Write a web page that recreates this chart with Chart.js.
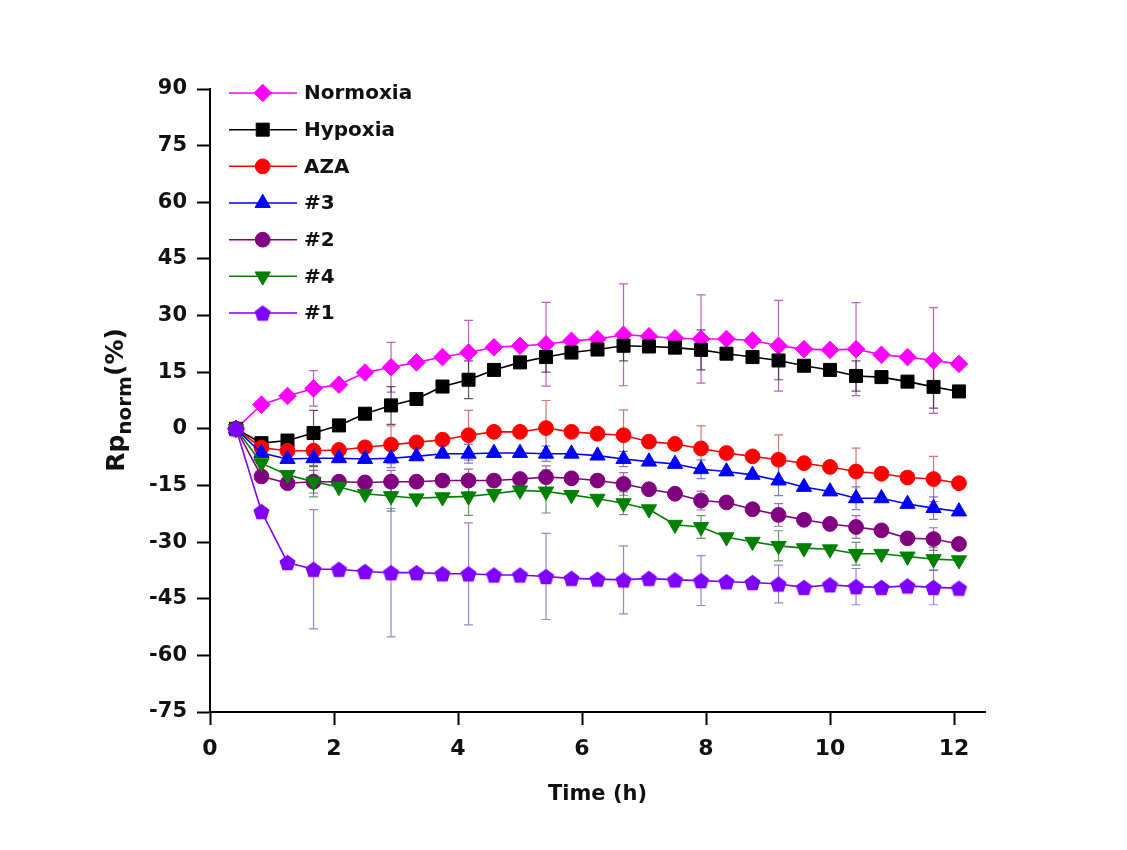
<!DOCTYPE html>
<html>
<head>
<meta charset="utf-8">
<script src="https://cdn.jsdelivr.net/npm/chart.js@4.4.1/dist/chart.umd.min.js"></script>
<style>
  html, body { margin: 0; padding: 0; background: #fff; }
</style>
</head>
<body>
<canvas id="rpChart" width="1127" height="850"></canvas>
<script>
// sampling times (h), one reading every 25 min
const times = [0.42, 0.83, 1.25, 1.67, 2.08, 2.50, 2.92, 3.33, 3.75, 4.17, 4.58, 5.00, 5.42, 5.83, 6.25,
               6.67, 7.08, 7.50, 7.92, 8.33, 8.75, 9.17, 9.58, 10.00, 10.42, 10.83, 11.25, 11.67, 12.08];

const seriesNames = ['Normoxia', 'Hypoxia', 'AZA', '#3', '#2', '#4', '#1'];

const normoxia = [0, 6.4, 8.7, 10.7, 11.7, 14.9, 16.3, 17.6, 19.0, 20.2, 21.6, 22.0, 22.4, 23.3, 23.8,
                  24.9, 24.5, 24.0, 23.8, 23.8, 23.4, 22.0, 21.1, 20.9, 21.1, 19.6, 19.0, 18.1, 17.2];
const hypoxia = [0, -3.8, -3.1, -1.1, 0.9, 4.0, 6.2, 7.9, 11.2, 13.0, 15.6, 17.6, 19.0, 20.2, 21.0,
                 22.0, 21.8, 21.5, 20.9, 19.9, 19.0, 18.1, 16.7, 15.6, 14.0, 13.7, 12.5, 11.1, 9.9];
const aza = [0, -5.0, -5.8, -5.8, -5.6, -4.9, -4.2, -3.6, -2.9, -1.7, -0.8, -0.8, 0.2, -0.8, -1.3,
             -1.7, -3.4, -4.0, -5.2, -6.4, -7.3, -8.2, -9.1, -10.1, -11.3, -11.9, -12.9, -13.3, -14.4];
const no3 = [0, -6.4, -8.0, -7.8, -7.8, -8.0, -7.8, -7.3, -6.6, -6.6, -6.4, -6.4, -6.6, -6.6, -7.1,
             -8.0, -8.7, -9.3, -10.7, -11.3, -12.2, -13.7, -15.4, -16.6, -18.4, -18.4, -19.9, -21.0, -21.9];
const no2 = [0, -12.6, -14.4, -14.0, -14.0, -14.2, -14.0, -14.0, -13.7, -13.7, -13.7, -13.3, -12.8, -13.1, -13.7,
             -14.6, -16.0, -17.2, -19.0, -19.5, -21.3, -22.8, -24.1, -25.2, -26.0, -26.9, -29.0, -29.2, -30.5];
const no4 = [0, -9.1, -12.2, -14.0, -15.4, -17.2, -17.8, -18.4, -18.1, -17.9, -17.2, -16.3, -16.6, -17.5, -18.5,
             -19.7, -21.3, -25.4, -26.0, -28.7, -29.9, -31.0, -31.6, -31.9, -33.1, -33.1, -33.8, -34.5, -34.8];
const no1 = [0, -21.9, -35.4, -37.2, -37.2, -37.8, -38.1, -38.1, -38.4, -38.4, -38.7, -38.7, -39.1, -39.6, -39.8,
             -40.0, -39.6, -40.0, -40.2, -40.5, -40.7, -41.1, -42.0, -41.3, -41.8, -42.0, -41.6, -42.0, -42.2];

// error bars (SD) are only drawn at every third reading
const errorAt = [1.67, 2.92, 4.17, 5.42, 6.67, 7.92, 9.17, 10.42, 11.67];
const normoxiaErr = [4.7, 6.6, 8.5, 11.1, 13.5, 11.7, 12.0, 12.3, 14.0];
const hypoxiaErr = [6.0, 5.0, 5.0, 4.0, 4.0, 5.3, 5.1, 4.0, 5.6];
const azaErr = [4.0, 5.0, 6.6, 7.3, 6.7, 6.0, 6.6, 6.2, 6.0];
const no3Err = [2.0, 2.5, 2.5, 2.0, 2.0, 2.5, 4.0, 3.0, 3.0];
const no2Err = [3.0, 3.0, 3.0, 3.0, 3.0, 2.5, 3.0, 3.0, 3.0];
const no4Err = [4.0, 4.0, 5.0, 5.7, 3.0, 3.0, 4.0, 3.0, 3.0];
const no1Err = [15.8, 17.0, 13.5, 11.4, 9.0, 6.6, 5.0, 4.8, 4.6];

const xTicks = [0, 2, 4, 6, 8, 10, 12];
const yTicks = [-75, -60, -45, -30, -15, 0, 15, 30, 45, 60, 75, 90];

const FONT = "'DejaVu Sans', 'Liberation Sans', Arial, sans-serif";

function pentagon(color, r) {
  const c = document.createElement('canvas');
  const s = Math.ceil(r * 2 + 2);
  c.width = s; c.height = s;
  const g = c.getContext('2d');
  g.beginPath();
  for (let i = 0; i < 5; i++) {
    const a = -Math.PI / 2 + i * 2 * Math.PI / 5;
    const px = s / 2 + r * Math.cos(a), py = s / 2 + r * Math.sin(a) + 0.8;
    if (i) g.lineTo(px, py); else g.moveTo(px, py);
  }
  g.closePath();
  g.fillStyle = color;
  g.fill();
  return c;
}

function makeSet(idx, values, errs, color, errColor, style, radius, rotation, order) {
  return {
    label: seriesNames[idx],
    data: times.map((t, i) => ({ x: t, y: values[i] })),
    errors: errs,
    errorColor: errColor,
    borderColor: color,
    backgroundColor: color,
    borderWidth: 1.6,
    pointStyle: style,
    pointRadius: radius,
    pointHoverRadius: radius,
    pointRotation: rotation,
    pointBorderColor: color,
    pointBackgroundColor: color,
    pointBorderWidth: 1,
    tension: 0,
    order: order
  };
}

const datasets = [
  makeSet(0, normoxia, normoxiaErr, '#FF00FF', 'rgba(170,60,170,0.8)', 'rectRot', 8.8, 0, 6),
  makeSet(1, hypoxia, hypoxiaErr, '#000000', 'rgba(60,40,60,0.8)', 'rect', 9.2, 0, 5),
  makeSet(2, aza, azaErr, '#FF0000', 'rgba(190,60,60,0.7)', 'circle', 7.4, 0, 4),
  makeSet(3, no3, no3Err, '#0000FF', 'rgba(70,70,200,0.7)', 'triangle', 8.8, 0, 3),
  makeSet(4, no2, no2Err, '#800080', 'rgba(128,40,128,0.7)', 'circle', 7.4, 0, 2),
  makeSet(5, no4, no4Err, '#008000', 'rgba(40,110,40,0.7)', 'triangle', 8.8, 180, 1),
  makeSet(6, no1, no1Err, '#8000FF', 'rgba(130,100,200,0.8)', pentagon('#8000FF', 8.5), 8, 0, 0)
];

const errorBars = {
  id: 'errorBars',
  beforeDatasetsDraw(chart) {
    const { ctx, scales: { x, y } } = chart;
    chart.data.datasets.forEach(ds => {
      ctx.save();
      ctx.strokeStyle = ds.errorColor;
      ctx.lineWidth = 1.2;
      errorAt.forEach((t, j) => {
        const pt = ds.data[times.indexOf(t)];
        const px = x.getPixelForValue(pt.x);
        const top = y.getPixelForValue(pt.y + ds.errors[j]);
        const bot = y.getPixelForValue(pt.y - ds.errors[j]);
        ctx.beginPath();
        ctx.moveTo(px, top); ctx.lineTo(px, bot);
        ctx.moveTo(px - 4.5, top); ctx.lineTo(px + 4.5, top);
        ctx.moveTo(px - 4.5, bot); ctx.lineTo(px + 4.5, bot);
        ctx.stroke();
      });
      ctx.restore();
    });
  }
};

const insideLegend = {
  id: 'insideLegend',
  afterDatasetsDraw(chart) {
    const { ctx, chartArea } = chart;
    const left = chartArea.left;
    const y0 = chartArea.top + 4, dy = 36.67;
    chart.data.datasets.forEach((ds, i) => {
      const yy = y0 + i * dy;
      ctx.save();
      ctx.strokeStyle = ds.borderColor;
      ctx.lineWidth = 1.5;
      ctx.beginPath();
      ctx.moveTo(left + 19, yy); ctx.lineTo(left + 87, yy);
      ctx.stroke();
      ctx.fillStyle = ds.pointBackgroundColor;
      ctx.strokeStyle = ds.pointBorderColor;
      ctx.lineWidth = 1;
      Chart.helpers.drawPoint(ctx, {
        pointStyle: ds.pointStyle, rotation: ds.pointRotation,
        radius: ds.pointRadius, borderWidth: 1
      }, left + 52.7, yy);
      ctx.fillStyle = '#111';
      ctx.font = 'bold 20px ' + FONT;
      ctx.textAlign = 'left';
      ctx.textBaseline = 'middle';
      ctx.fillText(ds.label, left + 94, yy + 1);
      ctx.restore();
    });
  }
};

// y title with subscript: Rp(norm)(%)
const yTitle = {
  id: 'yTitle',
  afterDraw(chart) {
    const { ctx } = chart;
    ctx.save();
    ctx.translate(117, 400);
    ctx.rotate(-Math.PI / 2);
    ctx.fillStyle = '#111';
    ctx.textBaseline = 'middle';
    ctx.textAlign = 'left';
    const big = 'bold 25px ' + FONT, small = 'bold 20px ' + FONT;
    ctx.font = big; const w1 = ctx.measureText('Rp').width; const w3 = ctx.measureText('(%)').width;
    ctx.font = small; const w2 = ctx.measureText('norm').width;
    let sx = -(w1 + w2 + w3) / 2;
    ctx.font = big; ctx.fillText('Rp', sx, 0); sx += w1;
    ctx.font = small; ctx.fillText('norm', sx, 9); sx += w2;
    ctx.font = big; ctx.fillText('(%)', sx, -1);
    ctx.restore();
  }
};

const axisCommon = {
  border: { display: true, color: '#000', width: 2 },
  grid: { display: true, drawOnChartArea: false, drawTicks: true, tickLength: 13, tickWidth: 2, tickColor: '#000', color: '#000' }
};

new Chart(document.getElementById('rpChart').getContext('2d'), {
  type: 'line',
  data: { datasets },
  options: {
    responsive: false,
    animation: false,
    devicePixelRatio: 1,
    layout: { padding: { top: 89, right: 142, left: 0, bottom: 0 } },
    plugins: { legend: { display: false }, tooltip: { enabled: false } },
    scales: {
      x: {
        ...axisCommon,
        type: 'linear',
        min: 0, max: 12.5,
        afterBuildTicks: s => { s.ticks = xTicks.map(v => ({ value: v })); },
        afterFit: s => { s.height = 138; },
        ticks: { color: '#111', padding: 11, font: { family: FONT, size: 22, weight: 'bold' } },
        title: { display: true, text: 'Time (h)', color: '#111', padding: { top: 0, bottom: 43 },
                 font: { family: FONT, size: 21, weight: 'bold' } }
      },
      y: {
        ...axisCommon,
        type: 'linear',
        min: -75, max: 90,
        afterBuildTicks: s => { s.ticks = yTicks.map(v => ({ value: v })); },
        afterFit: s => { s.width = 210; },
        ticks: { color: '#111', padding: 10, font: { family: FONT, size: 21, weight: 'bold' } }
      }
    }
  },
  plugins: [errorBars, insideLegend, yTitle]
});
</script>
</body>
</html>
